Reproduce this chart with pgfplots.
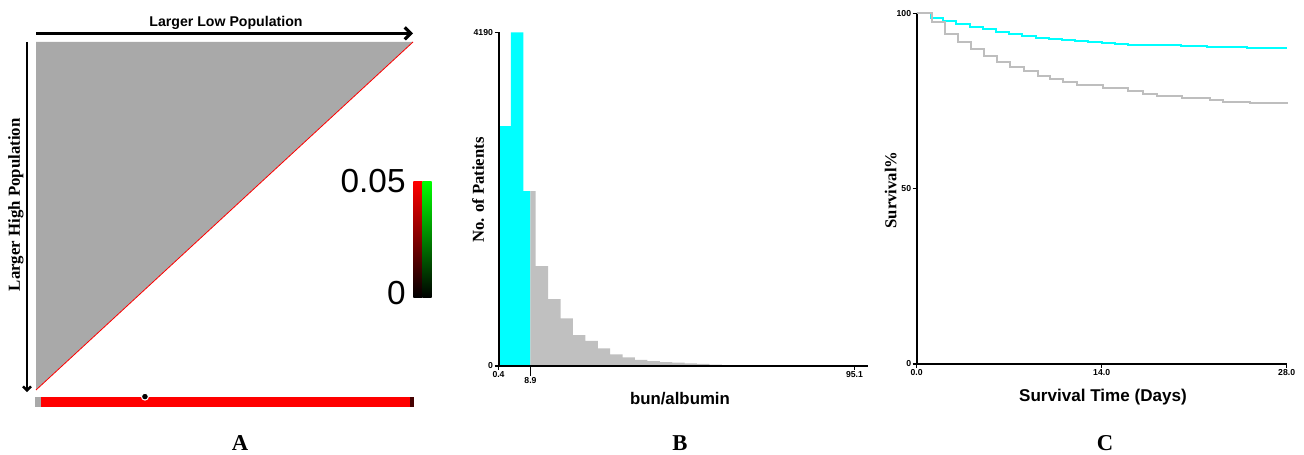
\documentclass[border=0pt]{standalone}
\usepackage{fontspec}
\setmainfont{Liberation Serif}
\setsansfont{Liberation Sans}
\usepackage{pgfplots}
\pgfplotsset{compat=1.18}
\usetikzlibrary{arrows.meta}
\definecolor{tri}{RGB}{169,169,169}
\definecolor{cyn}{RGB}{0,255,255}
\definecolor{gry}{RGB}{192,192,192}
\definecolor{kmg}{RGB}{190,190,190}
\definecolor{dkred}{RGB}{70,0,0}
\definecolor{grn}{RGB}{0,255,0}
\begin{document}
\begin{tikzpicture}
\useasboundingbox (0,0) rectangle (978pt,340.5pt);
% ---------------- Panel A ----------------
\begin{axis}[at={(27pt,48pt)}, anchor=south west, scale only axis,
  width=282.75pt, height=261pt, xmin=0, xmax=1, ymin=0, ymax=1,
  axis lines=none, clip=false]
\addplot[fill=tri, draw=none] coordinates {(0,0) (0,1) (1,1)} -- cycle;
\addplot[red, line width=0.6pt] coordinates {(0,0) (1,1)};
\addplot[black, line width=2.4pt, -{Straight Barb[length=4.5pt,width=9pt]}] coordinates {(0,1.025) (1.0,1.025)};
\addplot[black, line width=1.8pt, -{Straight Barb[length=3pt,width=6pt]}] coordinates {(-0.024,1.0) (-0.024,-0.006)};
% bottom bar
\addplot[fill=tri, draw=none] coordinates {(-0.003,-0.0497) (0.012,-0.0497) (0.012,-0.019) (-0.003,-0.019)} -- cycle;
\addplot[fill=red, draw=none] coordinates {(0.012,-0.0497) (0.991,-0.0497) (0.991,-0.019) (0.012,-0.019)} -- cycle;
\addplot[fill=dkred, draw=none] coordinates {(0.991,-0.0497) (1.003,-0.0497) (1.003,-0.019) (0.991,-0.019)} -- cycle;
\addplot[only marks, mark=*, mark size=2.6pt, mark options={fill=black, draw=white, line width=0.8pt}] coordinates {(0.289,-0.019)};
% colour bar
\addplot[draw=none, bottom color=black, top color=red] coordinates {(1.0008,0.265) (1.0257,0.265) (1.0257,0.599) (1.0008,0.599)} -- cycle;
\addplot[draw=none, bottom color=black, top color=grn] coordinates {(1.0257,0.265) (1.0496,0.265) (1.0496,0.599) (1.0257,0.599)} -- cycle;
\node[font=\sffamily\bfseries\fontsize{10.6}{12}\selectfont] at (axis cs:0.504,1.054) {Larger Low Population};
\node[font=\bfseries\fontsize{12.6}{14}\selectfont, rotate=90] at (axis cs:-0.053,0.532) {Larger High Population};
\node[anchor=east, inner sep=0pt, font=\sffamily\fontsize{25}{25}\selectfont] at (axis cs:0.981,0.601) {0.05};
\node[anchor=east, inner sep=0pt, font=\sffamily\fontsize{25}{25}\selectfont] at (axis cs:0.981,0.279) {0};
\node[font=\bfseries\fontsize{17}{17}\selectfont] at (axis cs:0.541,-0.152) {A};
\end{axis}
% ---------------- Panel B ----------------
\begin{axis}[at={(373.9pt,66.2pt)}, anchor=south west, scale only axis,
  width=277.1pt, height=250pt, xmin=0.4, xmax=98.7, ymin=0, ymax=4190,
  axis lines=left, axis line style={-, line width=1.5pt}, axis on top,
  xtick={0.4,95.1}, xticklabels={0.4,95.1},
  ytick={0,4190}, yticklabels={0,4190},
  extra x ticks={8.9}, extra x tick labels={8.9},
  extra x tick style={major tick length=7.5pt},
  tick align=outside, major tick length=3pt,
  tick style={line width=1.2pt, black},
  tick label style={font=\sffamily\bfseries\fontsize{6.5}{7}\selectfont, inner sep=1pt},
  /pgf/number format/assume math mode=true, clip=false]
\addplot[fill=cyn, draw=none, const plot] coordinates {(0.4,3012) (3.7,4190) (7.0,2195) (8.9,2195)} \closedcycle;
\addplot[fill=gry, draw=none, const plot] coordinates {(8.9,2195) (10.3,1253) (13.6,838) (16.9,596) (20.2,386) (23.5,314) (26.8,219) (30.1,143) (33.4,105) (36.7,75) (40.0,59) (43.3,46) (46.6,38) (49.9,30) (53.2,22) (56.5,14) (59.8,0)} \closedcycle;
\node[font=\sffamily\bfseries\fontsize{12.6}{14}\selectfont] at (rel axis cs:0.491,-0.098) {bun/albumin};
\node[font=\bfseries\fontsize{12.5}{14}\selectfont, rotate=90] at (rel axis cs:-0.0555,0.527) {No. of Patients};
\node[font=\bfseries\fontsize{17}{17}\selectfont] at (rel axis cs:0.491,-0.232) {B};
\end{axis}
% ---------------- Panel C ----------------
\begin{axis}[at={(687.5pt,67.5pt)}, anchor=south west, scale only axis,
  width=277.5pt, height=263pt, xmin=0, xmax=28, ymin=0, ymax=100,
  axis lines=left, axis line style={-, line width=1.5pt},
  xtick={0,14,28}, xticklabels={0.0,14.0,28.0},
  ytick={0,50,100}, yticklabels={0,50,100},
  tick align=outside, major tick length=3pt,
  tick style={line width=1.2pt, black},
  tick label style={font=\sffamily\bfseries\fontsize{6.5}{7}\selectfont, inner sep=1pt},
  /pgf/number format/assume math mode=true, clip=false]
\addplot[cyn, line width=1.5pt, const plot] coordinates {(0,100) (1.1,98.7) (2,97.9) (3,96.9) (4,96.1) (5,95.4) (6,94.8) (7,94.2) (8,93.6) (9,93.1) (10,92.7) (11,92.3) (12,92.0) (13,91.8) (14,91.6) (15,91.3) (16,91.1) (17,91.0) (18,90.9) (20,90.6) (22,90.5) (24,90.3) (25,90.2) (28,90.2)};
\addplot[kmg, line width=1.5pt, const plot] coordinates {(0,100) (1.14,97.6) (2.14,94.1) (3.1,91.9) (4.1,89.7) (5.1,87.9) (6.1,86.2) (7.1,84.8) (8.15,83.5) (9.2,82.2) (10.1,81.3) (11.1,80.3) (12.1,79.5) (14.1,78.6) (16.0,77.8) (17.1,76.9) (18.2,76.5) (20.1,75.8) (22.2,75.2) (23.2,74.8) (25.2,74.3) (28,74.1)};
\node[font=\sffamily\bfseries\fontsize{12.8}{14}\selectfont] at (rel axis cs:0.5035,-0.094) {Survival Time (Days)};
\node[font=\bfseries\fontsize{12.5}{14}\selectfont, rotate=90] at (rel axis cs:-0.070,0.496) {Survival\%};
\node[font=\bfseries\fontsize{17}{17}\selectfont] at (rel axis cs:0.509,-0.225) {C};
\end{axis}
\end{tikzpicture}
\end{document}
